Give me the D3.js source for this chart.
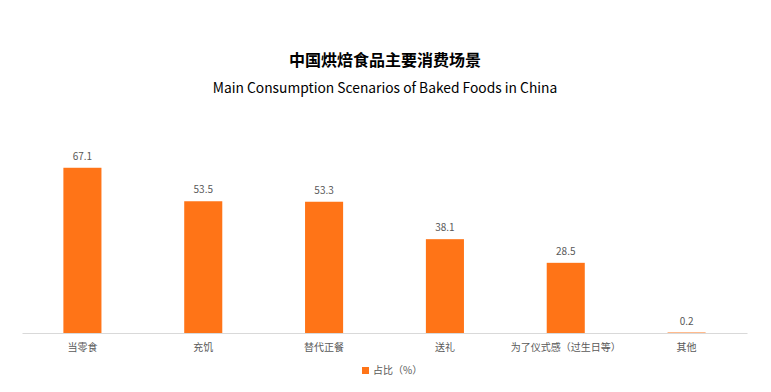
<!DOCTYPE html>
<html><head><meta charset="utf-8">
<script src="https://cdn.jsdelivr.net/npm/d3@7"></script>
<style>body{margin:0;background:#fff;} svg{display:block;font-family:"Noto Sans CJK SC","Noto Sans",sans-serif;}</style>
</head><body><svg id="c" width="771" height="392"></svg>
<script>
const categories = ["当零食","充饥","替代正餐","送礼","为了仪式感（过生日等）","其他"];
const values = [67.1,53.5,53.3,38.1,28.5,0.2];
const seriesName = "占比（%）";
const title = "中国烘焙食品主要消费场景";
const subtitle = "Main Consumption Scenarios of Baked Foods in China";

const svg = d3.select("#c");
const color = "#FF7417";
const x = d3.scaleBand().domain(categories).range([22,747]).paddingInner(0.685).paddingOuter(0.3425);
const y = d3.scaleLinear().domain([0,80]).range([333,136]);

svg.append("text").attr("x",385).attr("y",66).attr("text-anchor","middle")
  .attr("font-size",16).attr("font-weight","bold").attr("fill","#000").text(title);
svg.append("text").attr("x",385).attr("y",93).attr("text-anchor","middle")
  .attr("font-size",13.8).attr("fill","#000").text(subtitle);

svg.selectAll("rect.bar").data(values).join("rect").attr("class","bar")
  .attr("x",(d,i)=>x(categories[i])).attr("width",x.bandwidth())
  .attr("y",d=>y(d)).attr("height",d=>Math.max(1.5,y(0)-y(d))).attr("fill",color);

svg.selectAll("text.val").data(values).join("text").attr("class","val")
  .attr("x",(d,i)=>x(categories[i])+x.bandwidth()/2).attr("y",d=>y(d)-8)
  .attr("text-anchor","middle").attr("font-size",10).attr("fill","#595959").text(d=>d.toFixed(1));

const ax = svg.append("g").attr("transform","translate(0,333)").call(d3.axisBottom(x).tickSize(0).tickPadding(11));
ax.select(".domain").attr("stroke","#d9d9d9");
ax.selectAll("text").attr("font-size",10).attr("fill","#595959").attr("font-family","'Noto Sans CJK SC',sans-serif");

const lg = svg.append("g").attr("transform","translate(362,367)");
lg.append("rect").attr("width",7).attr("height",7).attr("fill",color);
lg.append("text").attr("x",11).attr("y",7).attr("font-size",10).attr("fill","#595959").text(seriesName);
</script></body></html>
